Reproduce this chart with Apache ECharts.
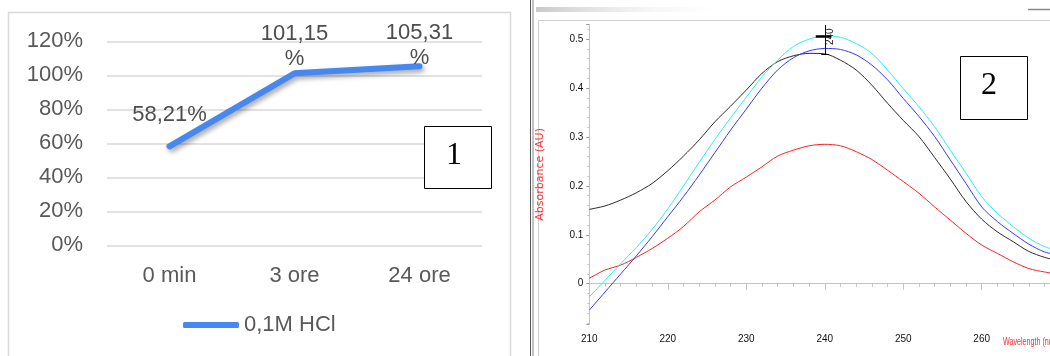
<!DOCTYPE html>
<html>
<head>
<meta charset="utf-8">
<script src="https://cdn.jsdelivr.net/npm/echarts@6/dist/echarts.min.js"></script>
<style>html,body{margin:0;padding:0;background:#fff}#c{width:1050px;height:356px}</style>
</head>
<body>
<div id="c"></div>
<script>
// ---------- Panel 1 data ----------
const categories = ['0 min', '3 ore', '24 ore'];
const hclValues = [58.21, 101.15, 105.31];
const hclName = '0,1M HCl';
const pctMin = 0, pctMax = 120, pctStep = 20;

// ---------- Panel 2 data (UV spectra) ----------
const wavelengths = [210,212,214,216,218,220,222,224,226,228,230,232,234,236,238,240,242,244,246,248,250,252,254,256,258,260,262,264,266,268,270];
const cyanAbs  = [-0.027,0.007,0.041,0.074,0.111,0.153,0.200,0.248,0.295,0.339,0.381,0.423,0.457,0.485,0.500,0.507,0.504,0.491,0.471,0.437,0.399,0.362,0.321,0.273,0.226,0.178,0.144,0.117,0.093,0.076,0.066];
const blueAbs  = [-0.054,-0.017,0.020,0.057,0.096,0.137,0.178,0.222,0.268,0.314,0.357,0.400,0.437,0.462,0.476,0.481,0.479,0.468,0.447,0.417,0.379,0.342,0.301,0.253,0.205,0.157,0.127,0.103,0.081,0.065,0.058];
const blackAbs = [0.152,0.159,0.171,0.186,0.205,0.231,0.261,0.294,0.331,0.363,0.396,0.430,0.454,0.466,0.471,0.470,0.457,0.437,0.406,0.369,0.334,0.301,0.258,0.214,0.168,0.132,0.106,0.086,0.066,0.054,0.046];
const redAbs   = [0.011,0.028,0.038,0.054,0.072,0.093,0.117,0.147,0.171,0.198,0.218,0.239,0.261,0.273,0.282,0.285,0.282,0.270,0.254,0.232,0.209,0.185,0.157,0.130,0.103,0.079,0.062,0.045,0.031,0.024,0.019];
const peakWavelength = 240;
const wlMin = 210, wlMax = 270, wlStep = 10;
const absMin = -0.083, absMax = 0.53;

// ---------- helpers ----------
const SANS = "'Liberation Sans', Arial, sans-serif";
const NARROW = "'Liberation Sans Narrow', 'Arial Narrow', 'Liberation Sans', sans-serif";
const SERIF = "'Liberation Serif', 'Times New Roman', serif";
const fmtComma = v => v.toFixed(2).replace('.', ',');
const labelLift = [18, 1, -5];
const pairs = arr => wavelengths.map((w, i) => [w, arr[i]]);

const chart = echarts.init(document.getElementById('c'), null, {renderer: 'canvas', width: 1050, height: 356});

const lineBlue = '#4687f0';
const markStyle = {color: '#000', width: 1, type: 'solid'};
const barStyle = {color: '#000', width: 2.5, type: 'solid'};

const option = {
  animation: false,
  backgroundColor: '#ffffff',
  grid: [
    {left: 107, top: 41.3, width: 375, height: 204, outerBoundsMode: 'none', containLabel: false},
    {left: 589.3, top: 24.5, width: 470.9, height: 299.8, outerBoundsMode: 'none', containLabel: false}
  ],
  legend: {
    data: [{name: hclName, icon: 'roundRect'}],
    left: 183, top: 314, padding: 0,
    itemWidth: 56, itemHeight: 6,
    selectedMode: false,
    textStyle: {fontSize: 22, color: '#595959', fontFamily: SANS}
  },
  xAxis: [
    {
      type: 'category', gridIndex: 0, data: categories, boundaryGap: true,
      axisLine: {show: false}, axisTick: {show: false},
      axisLabel: {fontSize: 22, color: '#595959', fontFamily: SANS, margin: 20}
    },
    {
      type: 'value', gridIndex: 1, min: wlMin, max: wlMax, interval: wlStep,
      axisLine: {lineStyle: {color: '#c4c4c4'}},
      axisTick: {length: 6, lineStyle: {color: '#c4c4c4'}},
      minorTick: {show: true, splitNumber: 5, length: 3, lineStyle: {color: '#c4c4c4'}},
      splitLine: {show: false},
      axisLabel: {showMaxLabel: false, fontSize: 10, fontFamily: NARROW, color: '#111', margin: 10}
    }
  ],
  yAxis: [
    {
      type: 'value', gridIndex: 0, min: pctMin, max: pctMax, interval: pctStep,
      axisLine: {show: false}, axisTick: {show: false},
      splitLine: {lineStyle: {color: '#d9d9d9', width: 1.5}},
      axisLabel: {formatter: '{value}%', fontSize: 22, color: '#595959', fontFamily: SANS, margin: 24}
    },
    {
      type: 'value', gridIndex: 1, min: absMin, max: absMax, splitNumber: 6,
      name: 'Absorbance (AU)', nameLocation: 'middle', nameGap: 44, nameRotate: 90,
      nameTextStyle: {color: '#ff3030', fontSize: 11, fontFamily: "'DejaVu Sans', sans-serif"},
      axisLine: {show: true, lineStyle: {color: '#c4c4c4'}},
      axisTick: {show: true, length: 3, lineStyle: {color: '#9a9a9a'}},
      minorTick: {show: true, splitNumber: 5, length: 2, lineStyle: {color: '#c4c4c4'}},
      splitLine: {show: false},
      axisLabel: {
        showMinLabel: false, showMaxLabel: false,
        fontSize: 10, fontFamily: NARROW, color: '#111', margin: 6,
        formatter: v => {
          const r = Math.round(v * 10) / 10;
          return Math.abs(v - r) < 1e-6 ? String(r) : '';
        }
      }
    }
  ],
  series: [
    {
      name: hclName, type: 'line', xAxisIndex: 0, yAxisIndex: 0,
      data: hclValues.map((v, i) => ({value: v, label: {offset: [0, -labelLift[i]]}})),
      symbol: 'circle', symbolSize: 1, showSymbol: true,
      itemStyle: {color: lineBlue},
      lineStyle: {color: lineBlue, width: 6, cap: 'round', join: 'round',
        shadowColor: 'rgba(0,0,0,0.35)', shadowBlur: 5, shadowOffsetX: 2, shadowOffsetY: 3},
      label: {
        show: true, position: 'top', distance: 0,
        fontSize: 22, lineHeight: 25, color: '#4d4d4d', fontFamily: SANS,
        formatter: p => fmtComma(p.value) + (p.value >= 100 ? '\n%' : '%')
      },
      z: 3
    },
    {
      name: 'black', type: 'line', xAxisIndex: 1, yAxisIndex: 1, data: pairs(blackAbs),
      showSymbol: false, smooth: 0.3, lineStyle: {color: '#2a2a2a', width: 1}, silent: true
    },
    {
      name: 'red', type: 'line', xAxisIndex: 1, yAxisIndex: 1, data: pairs(redAbs),
      showSymbol: false, smooth: 0.3, lineStyle: {color: '#ff2020', width: 1}, silent: true
    },
    {
      name: 'blue', type: 'line', xAxisIndex: 1, yAxisIndex: 1, data: pairs(blueAbs),
      showSymbol: false, smooth: 0.3, lineStyle: {color: '#3838ff', width: 1}, silent: true
    },
    {
      name: 'cyan', type: 'line', xAxisIndex: 1, yAxisIndex: 1, data: pairs(cyanAbs),
      showSymbol: false, smooth: 0.3, lineStyle: {color: '#22f0f0', width: 1}, silent: true,
      markLine: {
        silent: true, symbol: ['none', 'none'], animation: false,
        label: {show: false},
        lineStyle: markStyle,
        data: [
          [{coord: [peakWavelength, 0.529], lineStyle: markStyle}, {coord: [peakWavelength, 0.469], lineStyle: markStyle}],
          [{coord: [peakWavelength - 1.15, 0.505], lineStyle: barStyle}, {coord: [peakWavelength + 0.85, 0.505], lineStyle: barStyle}],
          [{coord: [peakWavelength - 0.45, 0.469], lineStyle: markStyle}, {coord: [peakWavelength + 0.55, 0.469], lineStyle: markStyle}]
        ]
      },
      markPoint: {
        silent: true, animation: false,
        data: [{
          coord: [peakWavelength + 0.75, 0.505], symbol: 'rect', symbolSize: [0.1, 0.1],
          itemStyle: {color: 'rgba(0,0,0,0)'},
          label: {show: true, position: 'inside', rotate: 90, formatter: String(peakWavelength),
            fontSize: 10, fontFamily: NARROW, color: '#222'}
        }]
      }
    }
  ],
  graphic: [
    // panel 1 frame
    {type: 'rect', z: -10, shape: {x: 8.5, y: 12.5, width: 502, height: 360}, style: {fill: 'none', stroke: '#d9d9d9', lineWidth: 1.5}},
    // separator
    {type: 'line', z: 50, shape: {x1: 530.5, y1: 0, x2: 530.5, y2: 356}, style: {stroke: '#555', lineWidth: 1}},
    {type: 'line', z: 50, shape: {x1: 533, y1: 0, x2: 533, y2: 356}, style: {stroke: '#888', lineWidth: 1}},
    // panel 2 frame
    {type: 'rect', z: -10, shape: {x: 538.5, y: 20.5, width: 540, height: 360}, style: {fill: 'none', stroke: '#d0d0d0', lineWidth: 1}},
    // title-bar remnant
    {type: 'rect', z: -10, shape: {x: 536, y: 7, width: 200, height: 5},
      style: {fill: new echarts.graphic.LinearGradient(0, 0, 1, 0, [{offset: 0, color: '#c9c9c9'}, {offset: 1, color: 'rgba(255,255,255,0)'}])}},
    {type: 'line', z: -10, shape: {x1: 1028, y1: 9.5, x2: 1050, y2: 9.5}, style: {stroke: '#888', lineWidth: 1.5}},
    // box 1
    {type: 'rect', z: 100, shape: {x: 424.5, y: 126.5, width: 67, height: 62}, style: {fill: '#fff', stroke: '#000', lineWidth: 1}},
    {type: 'text', z: 101, x: 454, y: 156, style: {text: '1', fontSize: 32, fontFamily: SERIF, fill: '#000', align: 'center', verticalAlign: 'middle'}},
    // box 2
    {type: 'rect', z: 100, shape: {x: 960.5, y: 56.5, width: 67, height: 63}, style: {fill: '#fff', stroke: '#000', lineWidth: 1}},
    {type: 'text', z: 101, x: 989, y: 86, style: {text: '2', fontSize: 32, fontFamily: SERIF, fill: '#000', align: 'center', verticalAlign: 'middle'}},
    // x axis name (cropped at the right edge)
    {type: 'text', z: 101, x: 1003, y: 342.5, scaleX: 0.68, style: {text: 'Wavelength (nm)', fontSize: 10.5, fontFamily: SANS, fill: '#ff2a2a', align: 'left', verticalAlign: 'middle'}}
  ]
};

chart.setOption(option);
</script>
</body>
</html>
